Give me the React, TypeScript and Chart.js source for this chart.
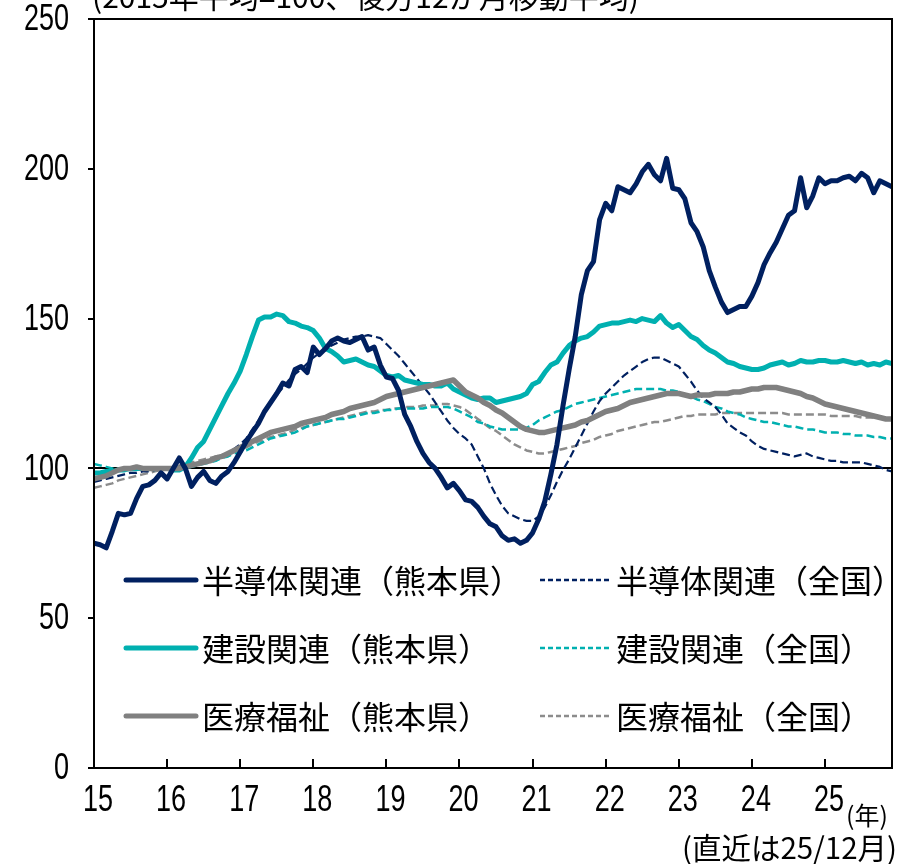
import React, { useEffect, useRef } from "react";
import { Chart, registerables } from "chart.js";

Chart.register(...registerables);

// x-axis year labels (tick at January of each year)
const yearLabels = ["15", "16", "17", "18", "19", "20", "21", "22", "23", "24", "25"];
// y-axis tick labels
const yTickValues = [0, 50, 100, 150, 200, 250];

// Monthly values, Jan 2015 - Dec 2025 (2015 average = 100, trailing 12-month average)
const semiKumamoto = [
  75, 74.5, 73.5, 79, 85, 84.5, 85, 90, 94, 94.5, 96, 98.5,
  96.5, 100, 103.5, 100, 94, 97, 99, 96, 95, 97.5, 99, 102,
  105.5, 109, 112, 115, 119, 122, 125, 128.5, 127.5, 133, 134, 132,
  140.5, 138, 140, 142.5, 143.5, 142.5, 142, 143, 144, 139.5, 140.5, 134.5,
  130.5, 130, 126, 118, 114, 109, 105, 102, 100, 97, 93.5, 95,
  92.5, 89.5, 89, 87, 84, 81.5, 80.5, 77.5, 76, 76.5, 75, 76,
  78.5, 83, 89, 98, 108, 121, 133, 144, 158, 166, 169, 183,
  188.5, 186, 194, 193, 192, 195, 199, 201.5, 198, 196, 203.5, 193.5,
  193, 190, 182, 179, 174, 166, 160.5, 155.5, 152, 153, 154, 154,
  157.5, 162, 168, 172, 175.5, 180, 184.5, 186, 197, 187, 191, 197,
  195, 196, 196, 197, 197.5, 196, 198.5, 197, 192, 196, 195, 194,
];

const semiNational = [
  95.5, 96, 96.5, 97, 97.5, 98, 98.5, 98.5, 99, 99, 99.5, 100,
  100, 100, 100.5, 101, 101, 101.5, 102, 102.5, 103, 104, 105, 106.5,
  108, 110, 113, 116, 119.5, 122, 124.5, 127, 129.5, 131.5, 133, 135,
  137, 138.5, 140, 141, 142, 143, 143.5, 144, 144, 144.5, 144, 143.5,
  141.5, 139.5, 137.5, 135, 132.5, 130, 127.5, 125, 122, 119, 116, 113.5,
  111.5, 110, 108, 104, 100, 95, 91, 87.5, 85, 84, 83, 82.5,
  82.5, 84, 87, 91, 95.5, 99.5, 103, 107, 111, 115, 119, 122.5,
  125, 127, 129, 131, 132.5, 134, 135.5, 136.5, 137, 137, 136, 135,
  134, 131.5, 129, 126, 123.5, 122, 120.5, 118, 115, 113.5, 112, 111,
  109, 107.5, 106.5, 106, 105.5, 105, 104.5, 104, 104.5, 105, 104, 103.5,
  103, 102.5, 102.5, 102, 102, 102, 102, 101.5, 101, 100.5, 99.5, 99,
];

const constKumamoto = [
  98.5, 98.5, 99, 99, 99.5, 99.5, 100, 100, 100, 100, 100, 100,
  100, 99.5, 99.5, 100.5, 103.5, 107, 109, 113, 117, 121, 125, 128.5,
  132.5, 138, 144, 149.5, 150.5, 150.5, 151.5, 151, 149, 148.5, 147.5, 147,
  146, 143.5, 140, 139, 137.5, 135.5, 136, 136.5, 135.5, 134.5, 134, 132.5,
  131, 130.5, 131, 129.5, 129, 128.5, 128, 128, 127.5, 127.5, 128.5, 126.5,
  125.5, 124.5, 123.5, 123, 123.5, 123.5, 122, 122.5, 123, 123.5, 124, 125,
  128, 129, 132, 134.5, 135.5, 138.5, 141, 142.5, 143.5, 144, 145.5, 147.5,
  148, 148.5, 148.5, 149, 149.5, 149, 150, 149.5, 149, 151, 148.5, 147,
  148, 146, 144, 143, 141, 139.5, 138.5, 137, 135.5, 135, 134, 133.5,
  133, 133, 133.5, 134.5, 135, 135.5, 134.5, 135, 136, 135.5, 135.5, 136,
  136, 135.5, 135.5, 136, 135.5, 135, 135.5, 134.5, 135, 134.5, 135.5, 135,
];

const constNational = [
  101.5, 101, 100.5, 100, 100, 99.5, 99.5, 99.5, 99.5, 99.5, 99.5, 100,
  100, 100, 100, 100, 100.5, 101, 101.5, 102, 102.5, 103.5, 104, 105,
  105.5, 106, 107, 108, 109, 110, 110.5, 111, 111.5, 112, 113, 114,
  114.5, 115, 115.5, 116, 116.5, 116.5, 117, 117.5, 118, 118.5, 118.5, 119,
  119.5, 119.5, 120, 120, 120, 120, 120, 120.5, 120.5, 120.5, 120.5, 120,
  119, 118, 117, 115.5, 115, 114, 113.5, 113, 113, 113, 113, 113.5,
  114.5, 116, 117, 118, 119, 119.5, 120.5, 121.5, 122, 122.5, 123, 123.5,
  124, 124.5, 125, 125.5, 126, 126.5, 126.5, 126.5, 126.5, 126.5, 126, 126,
  125.5, 124.5, 124, 123, 122.5, 121.5, 120.5, 120, 119, 118.5, 118, 117,
  116.5, 116, 115.5, 115.5, 115, 114.5, 114, 114, 113.5, 113, 113, 112.5,
  112, 112, 112, 111.5, 111.5, 111, 111, 111, 110.5, 110.5, 110, 110,
];

const medKumamoto = [
  96.5, 97, 97.5, 98.5, 99.5, 100, 100, 100.5, 100, 100, 100, 100,
  100, 100, 100, 100.5, 101, 101.5, 102, 102.5, 103.5, 104, 105, 106,
  107, 108, 109, 110, 111, 112, 112.5, 113, 113.5, 114, 115, 115.5,
  116, 116.5, 117, 118, 118.5, 119, 120, 120.5, 121, 121.5, 122, 123,
  124, 124.5, 125, 125.5, 126, 126.5, 127, 127.5, 128, 128.5, 129, 129.5,
  127.5, 125.5, 124.5, 123.5, 122, 121, 119.5, 118.5, 117, 115.5, 114, 113,
  112.5, 112, 112, 112.5, 113, 113.5, 114, 114.5, 115.5, 116, 117, 118,
  119, 119.5, 120, 121, 122, 122.5, 123, 123.5, 124, 124.5, 125, 125,
  125, 124.5, 124, 124.5, 124.5, 124.5, 125, 125, 125, 125.5, 125.5, 126,
  126.5, 126.5, 127, 127, 127, 126.5, 126, 125.5, 125, 124, 123.5, 122.5,
  121.5, 121, 120.5, 120, 119.5, 119, 118.5, 118, 117.5, 117, 116.5, 116.5,
];

const medNational = [
  93.5, 94, 94.5, 95, 96, 96.5, 97, 97.5, 98, 98.5, 99, 99.5,
  100, 100.5, 101, 101.5, 102, 102.5, 103, 103.5, 104, 104.5, 105, 105.5,
  106.5, 107, 108, 109, 109.5, 110.5, 111, 111.5, 112, 113, 113.5, 114,
  114.5, 115, 115.5, 116, 116.5, 117, 117.5, 118, 118.5, 119, 119, 119.5,
  119.5, 120, 120, 120.5, 120.5, 120.5, 121, 121, 121, 121.5, 121.5, 121,
  120.5, 119.5, 118, 116.5, 115, 113.5, 112.5, 111, 109.5, 108, 107, 106,
  105.5, 105, 105, 105.5, 106, 106.5, 107, 107.5, 108.5, 109, 109.5, 110.5,
  111, 111.5, 112.5, 113, 113.5, 114, 114.5, 115, 115.5, 115.5, 116, 116.5,
  117, 117.5, 117.5, 118, 118, 118, 118, 118.5, 118.5, 118.5, 118.5, 118.5,
  118.5, 118.5, 118.5, 118.5, 118.5, 118.5, 118, 118, 118, 118, 118, 118,
  118, 117.5, 117.5, 117.5, 117.5, 117.5, 117, 117, 117, 117, 116.5, 116.5,
];

const seriesNames = [
  "半導体関連（熊本県）",
  "半導体関連（全国）",
  "建設関連（熊本県）",
  "建設関連（全国）",
  "医療福祉（熊本県）",
  "医療福祉（全国）",
];

const NAVY = "#002060";
const TEAL = "#00b0b0";
const GRAY = "#808080";
const GRAY_D = "#8c8c8c";

const CJK = "'Noto Sans CJK JP', sans-serif";
const NUM = "'Liberation Sans', sans-serif";

const toPts = (arr: number[]) => arr.map((v, i) => ({ x: i, y: v }));

const legendItems = [
  { name: seriesNames[0], color: NAVY, dash: [] as number[], width: 5, col: 0, row: 0 },
  { name: seriesNames[1], color: NAVY, dash: [5, 3], width: 2.5, col: 1, row: 0 },
  { name: seriesNames[2], color: TEAL, dash: [] as number[], width: 5, col: 0, row: 1 },
  { name: seriesNames[3], color: TEAL, dash: [5, 3], width: 2.5, col: 1, row: 1 },
  { name: seriesNames[4], color: GRAY, dash: [] as number[], width: 5, col: 0, row: 2 },
  { name: seriesNames[5], color: GRAY_D, dash: [5, 3], width: 2.5, col: 1, row: 2 },
];

const condensedText = (ctx: any, text: string, x: number, y: number, sx: number) => {
  ctx.save();
  ctx.translate(x, y);
  ctx.scale(sx, 1);
  ctx.fillText(text, 0, 0);
  ctx.restore();
};

const decorPlugin = {
  id: "decor",
  afterDraw(chart: any) {
    const { ctx, chartArea: a, scales } = chart;
    const xs = scales.x;
    const ys = scales.y;
    ctx.save();
    // plot frame
    ctx.strokeStyle = "#000";
    ctx.lineWidth = 2;
    ctx.setLineDash([]);
    ctx.strokeRect(a.left, a.top, a.right - a.left, a.bottom - a.top);
    // inward x ticks
    for (let k = 0; k < yearLabels.length; k++) {
      const px = Math.round(xs.getPixelForValue(k * 12));
      ctx.beginPath();
      ctx.moveTo(px, a.bottom);
      ctx.lineTo(px, a.bottom - 9);
      ctx.stroke();
    }
    // tick labels (condensed numerals)
    ctx.fillStyle = "#000";
    ctx.font = `37px ${NUM}`;
    ctx.textBaseline = "middle";
    ctx.textAlign = "right";
    yTickValues.forEach((v) => {
      condensedText(ctx, String(v), a.left - 25, ys.getPixelForValue(v) + 1, 0.73);
    });
    ctx.textAlign = "center";
    yearLabels.forEach((lab, k) => {
      condensedText(ctx, lab, xs.getPixelForValue(k * 12) + 4, a.bottom + 33, 0.73);
    });
    // legend
    const colLineX = [126, 540];
    const lineLen = 70;
    const rowY = [580, 648, 716];
    ctx.font = `32px ${CJK}`;
    ctx.textBaseline = "middle";
    ctx.textAlign = "left";
    legendItems.forEach((it) => {
      const x0 = colLineX[it.col];
      const y = rowY[it.row];
      ctx.beginPath();
      ctx.strokeStyle = it.color;
      ctx.lineWidth = it.width;
      ctx.lineCap = it.dash.length ? "butt" : "round";
      ctx.setLineDash(it.dash);
      ctx.moveTo(x0, y);
      ctx.lineTo(x0 + lineLen, y);
      ctx.stroke();
      ctx.setLineDash([]);
      ctx.fillStyle = "#000";
      ctx.fillText(it.name, x0 + lineLen + 6, y + 1);
    });
    // top note (cut off by the page edge)
    ctx.font = `30px ${CJK}`;
    ctx.fillStyle = "#000";
    ctx.textBaseline = "alphabetic";
    ctx.textAlign = "left";
    ctx.fillText("(2015年平均=100、後方12か月移動平均)", 92, 8);
    // axis unit notes
    ctx.font = `25px ${CJK}`;
    ctx.textAlign = "center";
    ctx.textBaseline = "middle";
    ctx.fillText("(年)", 867, 815);
    ctx.textAlign = "right";
    ctx.font = `29.5px ${CJK}`;
    ctx.fillText("(直近は25/12月)", 897, 848);
    ctx.restore();
  },
};

export default function App() {
  const ref = useRef<HTMLCanvasElement | null>(null);

  useEffect(() => {
    if (!ref.current) return;
    const common = { pointRadius: 0, tension: 0, fill: false, borderJoinStyle: "round" as const };
    const chart = new Chart(ref.current, {
      type: "line",
      data: {
        datasets: [
          { ...common, label: seriesNames[0], data: toPts(semiKumamoto), borderColor: NAVY, borderWidth: 5, order: 1 },
          { ...common, label: seriesNames[4], data: toPts(medKumamoto), borderColor: GRAY, borderWidth: 5.5, order: 2 },
          { ...common, label: seriesNames[2], data: toPts(constKumamoto), borderColor: TEAL, borderWidth: 5, order: 3 },
          { ...common, label: seriesNames[1], data: toPts(semiNational), borderColor: NAVY, borderWidth: 2.2, borderDash: [8, 4], order: 4 },
          { ...common, label: seriesNames[3], data: toPts(constNational), borderColor: TEAL, borderWidth: 2.5, borderDash: [8, 4], order: 5 },
          { ...common, label: seriesNames[5], data: toPts(medNational), borderColor: GRAY_D, borderWidth: 2.5, borderDash: [8, 4], order: 6 },
        ],
      },
      options: {
        animation: false,
        responsive: false,
        devicePixelRatio: 1,
        parsing: false as any,
        layout: { padding: { top: 19, right: 14, left: 0, bottom: 0 } },
        plugins: { legend: { display: false }, tooltip: { enabled: false }, title: { display: false } },
        scales: {
          x: {
            type: "linear",
            min: 0,
            max: 131,
            afterBuildTicks: (s: any) => {
              s.ticks = yearLabels.map((_, k) => ({ value: k * 12 }));
            },
            afterFit: (s: any) => {
              s.height = 96;
              s.paddingLeft = 0;
              s.paddingRight = 0;
            },
            grid: { display: false, drawTicks: false },
            border: { display: false },
            ticks: { display: false },
          },
          y: {
            min: 0,
            max: 250,
            afterBuildTicks: (s: any) => {
              s.ticks = yTickValues.map((v) => ({ value: v }));
            },
            afterFit: (s: any) => {
              s.width = 94;
              s.paddingTop = 0;
              s.paddingBottom = 0;
            },
            grid: {
              color: (c: any) => (c.tick && c.tick.value === 100 ? "#000" : "rgba(0,0,0,0)"),
              lineWidth: 2,
              drawTicks: true,
              tickLength: 6,
              tickColor: "#000",
              tickWidth: 2,
            },
            border: { display: false },
            ticks: { display: false },
          },
        },
      },
      plugins: [decorPlugin],
    });
    return () => chart.destroy();
  }, []);

  return (
    <div style={{ position: "absolute", left: 0, top: 0, width: 906, height: 864, background: "#fff" }}>
      <canvas ref={ref} width={906} height={864} style={{ display: "block", width: 906, height: 864 }} />
    </div>
  );
}
